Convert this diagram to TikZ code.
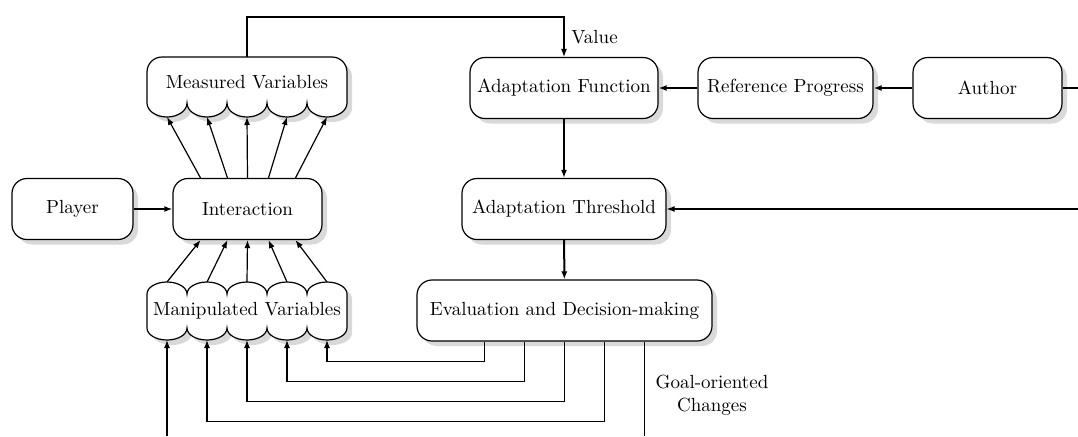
\documentclass[tikz,border=0pt]{standalone}
\usepackage{tikz}
\usetikzlibrary{positioning, arrows.meta, shadows, calc}

\begin{document}
\begin{tikzpicture}[x=0.5pt, y=-0.5pt, line width=0.6pt,
        font=\fontsize{9.5}{11.5}\selectfont,
        >={Latex[length=4pt, width=3pt]},
        shade/.style={drop shadow={shadow xshift=2.5pt, shadow yshift=-2.5pt, fill=black!15, opacity=1}},
        box/.style={draw, fill=white, rounded corners=7.5pt, minimum height=30.5pt, shade},
        flow/.style={->, line width=1pt},
        link/.style={->}]
        \useasboundingbox (0,0) rectangle (1078,436);

        % measured variables, scalloped below
        \path[draw, fill=white, shade]
            (147,103) -- (147,72) arc[start angle=180, end angle=270, radius=15]
            -- (332,57) arc[start angle=270, end angle=360, radius=15] -- (347,103)
            \foreach \i in {1,...,5} {arc[start angle=0, end angle=180, x radius=20, y radius=14]} -- cycle;
        \node (meas) at (247,82) {Measured Variables};

        % manipulated variables, scalloped above and below
        \path[draw, fill=white, shade]
            (147,294) \foreach \i in {1,...,5} {arc[start angle=180, end angle=360, x radius=20, y radius=12]}
            -- (347,328) \foreach \i in {1,...,5} {arc[start angle=0, end angle=180, x radius=20, y radius=12]} -- cycle;
        \node (mani) at (247,311) {Manipulated Variables};

        \node[box, minimum width=60.5pt] (player) at (72.5,209) {Player};
        \node[box, minimum width=74.5pt] (inter) at (247.5,209) {Interaction};
        \node[box, minimum width=94pt] (func) at (564,88) {Adaptation Function};
        \node[box, minimum width=87.5pt] (ref) at (785.5,88) {Reference Progress};
        \node[box, minimum width=74.5pt] (author) at (987.5,88) {Author};
        \node[box, minimum width=102pt] (thresh) at (564,209) {Adaptation Threshold};
        \node[box, minimum width=147.5pt] (eval) at (564.5,310.5) {Evaluation and Decision-making};

        \node[align=center] (goal) at (712,395) {Goal-oriented\\Changes};

        \coordinate (meas-top) at (247,57);
        \coordinate (edge-top) at (1078,88);
        \coordinate (edge-mid) at (1078,209);
        \coordinate (edge-bl) at (167,436);
        \coordinate (edge-br) at (644.5,436);

        \foreach \i/\dx in {1/-47, 2/-20, 3/0, 4/21, 5/48} {
                \coordinate (meas-\i) at (127+40*\i,117);
                \coordinate (mani-in-\i) at (127+40*\i,282);
                \coordinate (mani-\i) at (127+40*\i,340);
                \draw[link] ($(inter.north)+(\dx,0)$) -- (meas-\i);
                \draw[link] (mani-in-\i) -- ($(inter.south)+(\dx,0)$);
            }

        \draw[flow] (player) -- (inter);
        \draw[flow] (author) -- (ref);
        \draw[flow] (ref) -- (func);
        \draw[flow] (func) -- (thresh);
        \draw[flow] (thresh) -- (eval);
        \draw (author) -- (edge-top);
        \draw[link] (edge-mid) -- (thresh);
        \draw[link] (meas-top) -- ++(0,-40) -| node[pos=0.75, right] (value) {Value} (func);

        % feedback from the decision back to the variables
        \foreach \i/\dx/\dy in {5/-80/20, 4/-40/40, 3/0/60, 2/40/80} {
                \draw[link] ($(eval.south)+(\dx,0)$) -- ++(0,\dy) -| (mani-\i);
            }
        \draw[link] (edge-bl) -- (mani-1);
        \draw ($(eval.south)+(80,0)$) -- (edge-br);

    \end{tikzpicture}
\end{document}
